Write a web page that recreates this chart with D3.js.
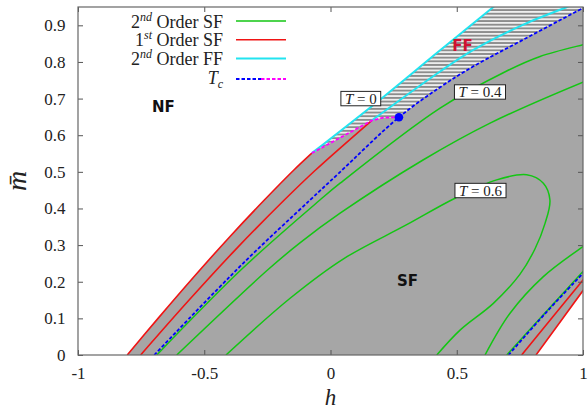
<!DOCTYPE html>
<html><head><meta charset="utf-8">
<script src="https://cdn.jsdelivr.net/npm/d3@7"></script>
<style>
html,body{margin:0;padding:0;background:#fff;}
svg{display:block;}
.serif{font-family:"Liberation Serif","DejaVu Serif","Noto Serif",serif;}
</style></head>
<body>
<svg id="chart" width="588" height="410"></svg>
<script>
// ---------- data (h, m) ----------
const xTicks = [-1, -0.5, 0, 0.5, 1];
const xTickLabels = ["-1", "-0.5", "0", "0.5", "1"];
const yTicks = [0, 0.1, 0.2, 0.3, 0.4, 0.5, 0.6, 0.7, 0.8, 0.9];
const yTickLabels = ["0", "0.1", "0.2", "0.3", "0.4", "0.5", "0.6", "0.7", "0.8", "0.9"];

const redOuterL = [[-0.805,0],[-0.683,0.1],[-0.539,0.215],[-0.396,0.325],[-0.262,0.423],[-0.145,0.505],[-0.074,0.551]];
const redInnerL = [[-0.752,0],[-0.56,0.15],[-0.377,0.287],[-0.183,0.423],[-0.059,0.505],[0.163,0.640]];
const redInnerR = [[0.757,0],[1.0,0.205],[1.03,0.23]];
const redOuterR = [[0.814,0],[1.0,0.176],[1.03,0.205]];
const cyanOuter = [[-0.074,0.551],[0.196,0.697],[0.422,0.825],[0.645,0.95],[0.663,0.96]];
const cyanInner = [[0.163,0.640],[0.434,0.774],[0.566,0.833],[0.764,0.902],[0.941,0.951],[0.96,0.956]];
const blueL = [[-0.698,0],[-0.345,0.251],[-0.081,0.423],[0.031,0.495],[0.271,0.649],[0.434,0.731],[0.566,0.788],[0.764,0.861],[1.0,0.947],[1.03,0.957]];
const blueR = [[0.705,0],[0.85,0.113],[1.0,0.223],[1.03,0.245]];
const magentaTc = [[-0.074,0.551],[0.163,0.640],[0.21,0.648],[0.271,0.649]];
const tcPoint = [0.271, 0.649];
const greenT04Upper = [[-0.688,0],[-0.352,0.234],[-0.042,0.423],[0.038,0.469],[0.434,0.674],[0.694,0.774],[0.83,0.815],[1.0,0.847],[1.03,0.852]];
const greenT04Lower = [[0.698,0],[0.85,0.115],[1.0,0.228],[1.03,0.25]];
const greenT05Upper = [[-0.609,0],[-0.246,0.234],[-0.121,0.306],[0.038,0.387],[0.368,0.533],[0.632,0.633],[1.0,0.745],[1.03,0.753]];
const greenT05Lower = [[0.612,0],[0.711,0.114],[0.843,0.214],[1.0,0.296],[1.03,0.31]];
const greenT06 = [[-0.414,0],[-0.16,0.155],[0.05,0.262],[0.3,0.355],[0.493,0.428],[0.658,0.478],[0.777,0.492],[0.843,0.469],[0.869,0.423],[0.850,0.360],[0.81,0.29],[0.75,0.22],[0.645,0.141],[0.513,0.068],[0.421,0]];

const boxLabelH = [0.120, 0.592, 0.594];
const boxLabelM = [0.700, 0.718, 0.449];
const boxLabelT = ["0", "0.4", "0.6"];

const regionNames = ["NF", "SF", "FF"];
const regionH = [-0.662, 0.305, 0.523];
const regionM = [0.678, 0.203, 0.844];

const legendPre = ["2", "1", "2", ""];
const legendSup = ["nd", "st", "nd", ""];
const legendRest = [" Order SF", " Order SF", " Order FF", ""];

// ---------- drawing ----------
const L = 78, R = 583, T = 7, B = 355;
const x = d3.scaleLinear().domain([-1, 1]).range([L, R]);
const y = d3.scaleLinear().domain([0, 0.95]).range([B, T]);
const svg = d3.select("#chart");

const defs = svg.append("defs");
defs.append("clipPath").attr("id", "clip").append("rect")
  .attr("x", L).attr("y", T).attr("width", R - L).attr("height", B - T);
const pat = defs.append("pattern").attr("id", "stripes")
  .attr("patternUnits", "userSpaceOnUse").attr("width", 10).attr("height", 3.66);
pat.append("rect").attr("width", 10).attr("height", 3.66).attr("fill", "#8c8c8c");
pat.append("rect").attr("width", 10).attr("height", 1.8).attr("fill", "#efefef");

const line = d3.line().x(d => x(d[0])).y(d => y(d[1])).curve(d3.curveCatmullRom.alpha(0.5));
const lineLin = d3.line().x(d => x(d[0])).y(d => y(d[1]));
const cont = s => s.replace(/^M/, "L");
const P = (h, m) => "L" + x(h) + "," + y(m);

const g = svg.append("g").attr("clip-path", "url(#clip)");

// gray region
const grayPath = line(redOuterL) + cont(line(cyanOuter)) + P(1.05, 0.97) + P(1.05, 0.21)
  + cont(line(redOuterR.slice().reverse())) + "Z";
g.append("path").attr("d", grayPath).attr("fill", "#a6a6a6");

// striped FF region
const blueUp = blueL.filter(d => d[0] >= tcPoint[0]);
const stripePath = line(cyanOuter) + P(1.05, 0.97) + cont(line(blueUp.slice().reverse()))
  + cont(lineLin(magentaTc.slice().reverse())) + "Z";
g.append("path").attr("d", stripePath).attr("fill", "url(#stripes)");

const GREEN = "#13c613", RED = "#f01414", CYAN = "#22e4f0", BLUE = "#0000ff", MAG = "#ff00ff";
function draw(data, color, w, dash, gen) {
  g.append("path").attr("d", (gen || line)(data)).attr("fill", "none")
    .attr("stroke", color).attr("stroke-width", w)
    .attr("stroke-dasharray", dash || null);
}
[greenT04Upper, greenT04Lower, greenT05Upper, greenT05Lower, greenT06].forEach(d => draw(d, GREEN, 1.5));
[redOuterL, redInnerL, redInnerR, redOuterR].forEach(d => draw(d, RED, 1.6));
[cyanOuter, cyanInner].forEach(d => draw(d, CYAN, 2));
draw(blueL, BLUE, 1.8, "3.5,2");
draw(blueR, BLUE, 1.8, "3.5,2");
draw(magentaTc, MAG, 1.8, "3.5,2", lineLin);
g.append("circle").attr("cx", x(tcPoint[0])).attr("cy", y(tcPoint[1])).attr("r", 4.3).attr("fill", BLUE);

// frame + ticks
const fr = svg.append("g");
const axStyle = sel => {
  sel.attr("font-family", null).attr("font-size", null);
  sel.select(".domain").remove();
  sel.selectAll(".tick line").attr("stroke", "#555").attr("stroke-width", 1);
  sel.selectAll(".tick text").attr("class", "serif").style("font-size", "17px").attr("fill", "#222");
};
fr.append("g").attr("transform", `translate(${L},0)`)
  .call(d3.axisLeft(y).tickValues(yTicks).tickFormat((d, i) => yTickLabels[i]).tickSize(-5).tickPadding(12.5))
  .call(axStyle);
fr.append("g").attr("transform", `translate(${R},0)`)
  .call(d3.axisRight(y).tickValues(yTicks).tickFormat("").tickSize(-5)).call(axStyle);
fr.append("g").attr("transform", `translate(0,${B})`)
  .call(d3.axisBottom(x).tickValues(xTicks).tickFormat((d, i) => xTickLabels[i]).tickSize(-5).tickPadding(11.5))
  .call(axStyle);
fr.append("g").attr("transform", `translate(0,${T})`)
  .call(d3.axisTop(x).tickValues(xTicks).tickFormat("").tickSize(-5)).call(axStyle);
fr.append("rect").attr("x", L).attr("y", T).attr("width", R - L).attr("height", B - T)
  .attr("fill", "none").attr("stroke", "#666").attr("stroke-width", 1.2);

// axis titles
svg.append("text").attr("class", "serif").attr("x", x(0)).attr("y", 404.5).attr("text-anchor", "middle")
  .style("font-style", "italic").style("font-size", "23px").attr("fill", "#222").text("h");
svg.append("text").attr("class", "serif").attr("transform", "translate(26,181) rotate(-90)").attr("text-anchor", "middle")
  .style("font-style", "italic").style("font-size", "28px").attr("fill", "#222").text("m\u0304");

// region labels
const regionColors = ["#111", "#111", "#cf1030"];
regionNames.forEach((t, i) => {
  svg.append("text").attr("x", x(regionH[i])).attr("y", y(regionM[i])).attr("dy", "0.36em")
    .attr("text-anchor", "middle").attr("font-family", "'DejaVu Sans',sans-serif").attr("font-weight", "bold")
    .attr("font-size", 15).attr("fill", regionColors[i]).text(t);
});

// boxed temperature labels
boxLabelT.forEach((t, i) => {
  const cx = x(boxLabelH[i]), cy = y(boxLabelM[i]);
  const gg = svg.append("g");
  const r = gg.append("rect");
  const tx = gg.append("text").attr("class", "serif").attr("x", cx).attr("y", cy + 5).attr("text-anchor", "middle")
    .style("font-size", "15px").attr("fill", "#222");
  tx.append("tspan").style("font-style", "italic").text("T");
  tx.append("tspan").text(" = " + t);
  const w = tx.node().getComputedTextLength() + 8;
  r.attr("x", cx - w / 2).attr("y", cy - 7.2).attr("width", w).attr("height", 14.4)
    .attr("fill", "#fff").attr("stroke", "#222").attr("stroke-width", 1);
});

// legend
const legColors = [GREEN, RED, CYAN];
const legBase = [27.5, 46.2, 64.9, 83.6];
for (let i = 0; i < 4; i++) {
  const t = svg.append("text").attr("class", "serif").attr("x", 223).attr("y", legBase[i]).attr("text-anchor", "end")
    .style("font-size", "18px").attr("fill", "#222");
  if (i < 3) {
    t.append("tspan").text(legendPre[i]);
    t.append("tspan").style("font-style", "italic").style("font-size", "12px").attr("dy", -7).text(legendSup[i]);
    t.append("tspan").attr("dy", 7).text(legendRest[i]);
    svg.append("line").attr("x1", 236).attr("x2", 286).attr("y1", legBase[i] - 6.5).attr("y2", legBase[i] - 6.5)
      .attr("stroke", legColors[i]).attr("stroke-width", i === 2 ? 2 : 1.6);
  } else {
    t.append("tspan").style("font-style", "italic").text("T");
    t.append("tspan").style("font-style", "italic").style("font-size", "12px").attr("dy", 4).text("c");
    svg.append("line").attr("x1", 236).attr("x2", 261).attr("y1", legBase[i] - 4.6).attr("y2", legBase[i] - 4.6)
      .attr("stroke", BLUE).attr("stroke-width", 1.8).attr("stroke-dasharray", "3.5,2");
    svg.append("line").attr("x1", 261).attr("x2", 286).attr("y1", legBase[i] - 4.6).attr("y2", legBase[i] - 4.6)
      .attr("stroke", MAG).attr("stroke-width", 1.8).attr("stroke-dasharray", "3.5,2");
  }
}
</script>
</body></html>
